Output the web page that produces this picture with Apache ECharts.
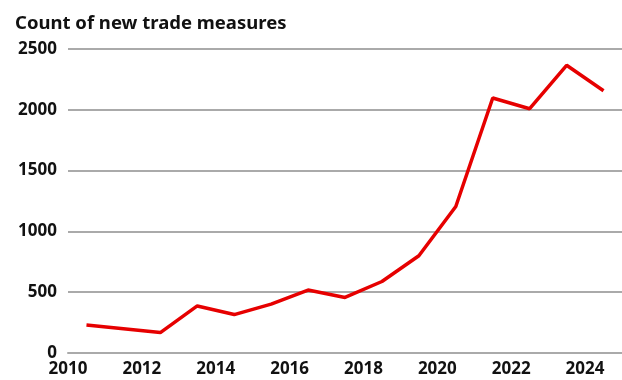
<!DOCTYPE html>
<html>
<head>
<meta charset="utf-8">
<script src="https://cdn.jsdelivr.net/npm/echarts@6/dist/echarts.min.js"></script>
<style>
html,body{margin:0;padding:0;background:#fff;}
#chart{width:622px;height:380px;}
</style>
</head>
<body>
<div id="chart"></div>
<script>
const titleText = "Count of new trade measures";
const years = [2010.5, 2011.5, 2012.5, 2013.5, 2014.5, 2015.5, 2016.5, 2017.5, 2018.5, 2019.5, 2020.5, 2021.5, 2022.5, 2023.5, 2024.5];
const counts = [230, 200, 168, 387, 316, 402, 518, 457, 588, 800, 1205, 2097, 2009, 2366, 2157];
const yTicks = [0, 500, 1000, 1500, 2000, 2500];
const xTicks = [2010, 2012, 2014, 2016, 2018, 2020, 2022, 2024];

const chart = echarts.init(document.getElementById('chart'), null, {renderer: 'canvas'});
const font = '"Noto Sans", sans-serif';
chart.setOption({
  animation: false,
  backgroundColor: '#ffffff',
  title: {
    text: titleText,
    left: 10, top: 9,
    textStyle: {fontFamily: font, fontSize: 18.5, fontWeight: 'bold', color: '#111'}
  },
  grid: {left: 68, right: 0, top: 49, bottom: 27, containLabel: false},
  xAxis: {
    type: 'value',
    min: xTicks[0], max: 2025, interval: 2,
    axisLine: {show: true, lineStyle: {color: '#aaaaaa', width: 2}},
    axisTick: {show: false},
    splitLine: {show: false},
    axisLabel: {
      showMaxLabel: false,
      margin: 8,
      fontFamily: font, fontSize: 17, fontWeight: 'bold', color: '#111',
      formatter: v => xTicks.includes(v) ? String(v) : ''
    }
  },
  yAxis: {
    type: 'value',
    min: yTicks[0], max: yTicks[yTicks.length - 1], interval: 500,
    axisLine: {show: false},
    axisTick: {show: false},
    splitLine: {show: true, lineStyle: {color: '#aaaaaa', width: 2}},
    axisLabel: {
      margin: 11, fontFamily: font, fontSize: 17, fontWeight: 'bold', color: '#111',
      formatter: v => String(v)
    }
  },
  series: [{
    type: 'line',
    data: years.map((y, i) => [y, counts[i]]),
    symbol: 'none',
    lineStyle: {color: '#e60000', width: 3.5},
    itemStyle: {color: '#e60000'}
  }]
});
</script>
</body>
</html>
